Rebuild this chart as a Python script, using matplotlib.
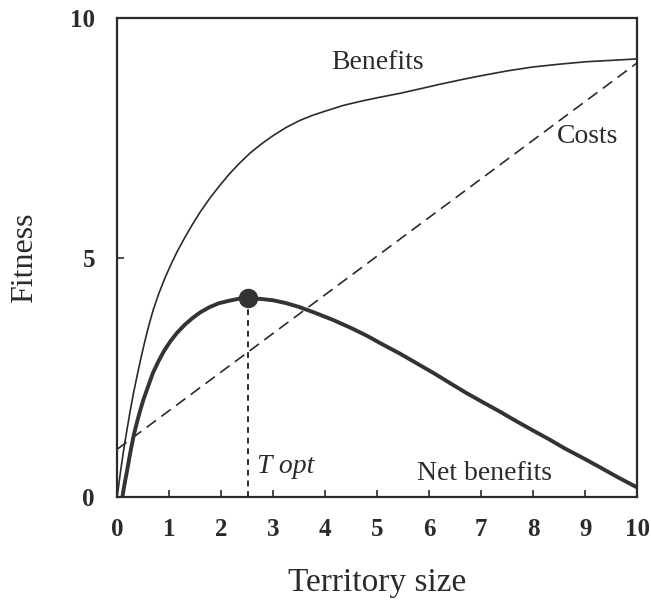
import numpy as np
import matplotlib
matplotlib.use('Agg')
import matplotlib.pyplot as plt

# values
benefit_x = [0, 0.06, 0.12, 0.19, 0.25, 0.31, 0.38, 0.45, 0.52, 0.6, 0.69, 0.8,
             0.92, 1.03, 1.15, 1.3, 1.45, 1.6, 1.78, 1.96, 2.15, 2.35, 2.55, 2.78,
             3.0, 3.25, 3.5, 3.75, 4.0, 4.35, 4.7, 5.05, 5.43, 5.8, 6.2, 6.72,
             7.1, 7.5, 7.98, 8.5, 9.0, 9.5, 10]
benefit_y = [0, 0.5, 0.95, 1.42, 1.8, 2.15, 2.52, 2.87, 3.2, 3.55, 3.9, 4.25,
             4.58, 4.85, 5.12, 5.42, 5.7, 5.96, 6.24, 6.49, 6.74, 6.97, 7.18, 7.38,
             7.55, 7.72, 7.86, 7.97, 8.06, 8.18, 8.27, 8.35, 8.43, 8.52, 8.62, 8.74,
             8.82, 8.9, 8.98, 9.04, 9.09, 9.12, 9.15]

cost_x = [0, 10]
cost_y = [1.0, 9.07]

net_x = [0.1, 0.13, 0.16, 0.19, 0.23, 0.27, 0.32, 0.38, 0.44, 0.5, 0.6, 0.69,
         0.8, 0.9, 1.02, 1.15, 1.3, 1.45, 1.6, 1.78, 1.96, 2.15, 2.33, 2.51,
         2.75, 3.0, 3.25, 3.5, 3.8, 4.15, 4.5, 4.8, 5.1, 5.43, 5.75, 6.1, 6.4,
         6.72, 7.05, 7.35, 7.65, 7.98, 8.3, 8.6, 8.95, 9.27, 9.6, 10]
net_y = [0, 0.2, 0.38, 0.55, 0.8, 1.03, 1.3, 1.56, 1.8, 2.02, 2.33, 2.6,
         2.85, 3.05, 3.25, 3.43, 3.6, 3.74, 3.86, 3.97, 4.05, 4.1, 4.14, 4.15,
         4.14, 4.11, 4.05, 3.97, 3.85, 3.7, 3.53, 3.37, 3.19, 3.0, 2.8, 2.58, 2.38,
         2.17, 1.97, 1.79, 1.6, 1.40, 1.21, 1.02, 0.82, 0.63, 0.43, 0.2]

t_opt = 2.51
t_opt_fit = 4.15

x_ticks = list(range(0, 11))
y_ticks = [0, 5, 10]

serif = ['Liberation Serif', 'DejaVu Serif']
ink = '#2b2b2b'

fig = plt.figure(figsize=(6.51, 6.07), dpi=100)
ax = fig.add_axes([0.180, 0.181, 0.799, 0.789])

ax.plot(benefit_x, benefit_y, color=ink, lw=1.2, solid_joinstyle='round')
ax.plot(cost_x, cost_y, color=ink, lw=1.2, dashes=(7, 4))
ax.plot(net_x, net_y, color='#333333', lw=2.8, solid_capstyle='round',
        solid_joinstyle='round')
ax.plot([t_opt, t_opt], [0, t_opt_fit], color=ink, lw=1.4, dashes=(3, 2.5))
ax.plot([t_opt], [t_opt_fit], 'o', color='#333333', ms=13)

ax.text(5.0, 9.08, 'Benefits', family=serif, fontsize=20, color=ink,
        ha='center', va='center')
ax.text(9.04, 7.52, 'Costs', family=serif, fontsize=20, color=ink,
        ha='center', va='center')
ax.text(2.68, 0.63, 'T opt', family=serif, fontsize=20, style='italic',
        color=ink, ha='left', va='center')
ax.text(7.06, 0.5, 'Net benefits', family=serif, fontsize=20, color=ink,
        ha='center', va='center')

ax.set_xlim(0, 10)
ax.set_ylim(0, 10)
ax.set_xticks(x_ticks)
ax.set_yticks(y_ticks)
for lab in ax.get_xticklabels() + ax.get_yticklabels():
    lab.set_family(serif)
    lab.set_fontweight('bold')
    lab.set_fontsize(18)
    lab.set_color(ink)
ax.tick_params(axis='x', direction='in', length=5, width=1.2, pad=15, colors=ink)
ax.tick_params(axis='y', direction='in', length=5, width=1.2, pad=16, colors=ink)
for sp in ax.spines.values():
    sp.set_linewidth(1.6)
    sp.set_color(ink)

ax.set_xlabel('Territory size', family=serif, fontsize=24, color=ink, labelpad=19)
ax.set_ylabel('Fitness', family=serif, fontsize=23, color=ink, labelpad=22)

fig.savefig('out.png', dpi=100)
